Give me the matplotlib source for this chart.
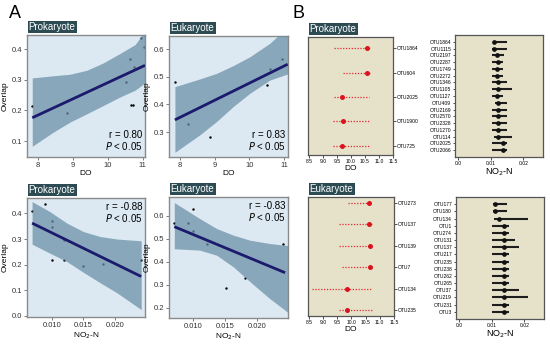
import matplotlib.pyplot as plt
import numpy as np
from matplotlib.ticker import FormatStrFormatter

plt.rcParams['font.family'] = ['Liberation Sans', 'DejaVu Sans']

# ---------------- panel A : overlap vs environment ----------------
# Prokaryote, DO
pd_x = [7.84, 8.84, 10.52, 10.63, 10.76, 10.65, 10.73, 10.95, 11.03]
pd_y = [0.214, 0.191, 0.292, 0.367, 0.342, 0.219, 0.217, 0.435, 0.408]
pd_fit_x = [7.84, 11.06]
pd_fit_y = [0.176, 0.347]
pd_band_x = [7.84, 8.44, 8.92, 9.40, 9.87, 10.35, 10.78, 11.06]
pd_band_lo = [0.083, 0.129, 0.162, 0.189, 0.216, 0.244, 0.266, 0.29]
pd_band_hi = [0.306, 0.313, 0.318, 0.331, 0.355, 0.386, 0.415, 0.46]

# Eukaryote, DO
ed_x = [7.85, 8.22, 8.85, 10.5, 10.6, 10.95]
ed_y = [0.482, 0.328, 0.282, 0.47, 0.528, 0.564]
ed_fit_x = [7.85, 11.1]
ed_fit_y = [0.344, 0.545]
ed_band_x = [7.85, 8.57, 9.05, 9.53, 10.01, 10.59, 11.1]
ed_band_lo = [0.227, 0.290, 0.338, 0.392, 0.440, 0.488, 0.51]
ed_band_hi = [0.464, 0.492, 0.512, 0.540, 0.572, 0.621, 0.68]

# Prokaryote, NO2-N
pn_x = [0.0069, 0.0089, 0.0100, 0.0100, 0.0100, 0.0119, 0.0119, 0.0150, 0.0181, 0.0241]
pn_y = [0.411, 0.437, 0.370, 0.345, 0.218, 0.218, 0.296, 0.194, 0.203, 0.218]
pn_fit_x = [0.0069, 0.0241]
pn_fit_y = [0.362, 0.154]
pn_band_x = [0.0069, 0.0097, 0.0124, 0.0150, 0.0176, 0.0203, 0.0241]
pn_band_lo = [0.280, 0.245, 0.212, 0.170, 0.130, 0.090, 0.025]
pn_band_hi = [0.446, 0.407, 0.362, 0.329, 0.310, 0.300, 0.293]

# Eukaryote, NO2-N
en_x = [0.00715, 0.0092, 0.0101, 0.0101, 0.0122, 0.0151, 0.0181, 0.0240]
en_y = [0.567, 0.567, 0.628, 0.534, 0.475, 0.285, 0.328, 0.475]
en_fit_x = [0.00715, 0.0243]
en_fit_y = [0.552, 0.352]
en_band_x = [0.00715, 0.0111, 0.0137, 0.0163, 0.0189, 0.0219, 0.0247]
en_band_lo = [0.456, 0.450, 0.428, 0.377, 0.312, 0.240, 0.18]
en_band_hi = [0.657, 0.587, 0.544, 0.515, 0.493, 0.479, 0.47]

# ---------------- panel B : OTU niche positions ----------------
prok_do_otu = ['OTU1864', 'OTU604', 'OTU2025', 'OTU1900', 'OTU725']
prok_do_mean = [10.56, 10.56, 9.68, 9.70, 9.68]
prok_do_lo = [9.41, 9.72, 9.41, 9.35, 9.35]
prok_do_hi = [10.70, 10.68, 10.64, 10.64, 10.64]

euk_do_otu = ['OTU273', 'OTU137', 'OTU139', 'OTU7', 'OTU134', 'OTU235']
euk_do_mean = [10.63, 10.63, 10.65, 10.65, 9.85, 9.83]
euk_do_lo = [9.88, 9.57, 9.57, 9.66, 8.60, 9.57]
euk_do_hi = [10.67, 10.76, 10.67, 10.72, 10.69, 10.76]

prok_no2_otu = ['OTU1864', 'OTU1115', 'OTU2197', 'OTU2287', 'OTU1749', 'OTU2272',
                'OTU1346', 'OTU1105', 'OTU1127', 'OTU409', 'OTU2169', 'OTU2570',
                'OTU2328', 'OTU1270', 'OTU114', 'OTU2025', 'OTU2066']
prok_no2_mean = [0.0111, 0.0111, 0.0120, 0.0121, 0.0120, 0.0120, 0.0121, 0.0121, 0.0120,
                 0.0121, 0.0121, 0.0121, 0.0121, 0.0121, 0.0121, 0.0137, 0.0137]
prok_no2_lo = [0.0110, 0.0103, 0.0103, 0.0103, 0.0103, 0.0103, 0.0103, 0.0103, 0.0103,
               0.0113, 0.0103, 0.0103, 0.0103, 0.0103, 0.0111, 0.0103, 0.0103]
prok_no2_hi = [0.0151, 0.0151, 0.0141, 0.0137, 0.0137, 0.0137, 0.0151, 0.0166, 0.0137,
               0.0151, 0.0151, 0.0151, 0.0151, 0.0151, 0.0166, 0.0151, 0.0151]

euk_no2_otu = ['OTU177', 'OTU180', 'OTU134', 'OTU1', 'OTU274', 'OTU131', 'OTU137', 'OTU217',
               'OTU235', 'OTU238', 'OTU262', 'OTU265', 'OTU37', 'OTU219', 'OTU231', 'OTU3']
euk_no2_mean = [0.0111, 0.0111, 0.0121, 0.0136, 0.0136, 0.0136, 0.0136, 0.0136,
                0.0136, 0.0136, 0.0136, 0.0136, 0.0136, 0.0136, 0.0136, 0.0136]
euk_no2_lo = [0.0104, 0.0104, 0.0106, 0.0101, 0.0101, 0.0101, 0.0101, 0.0101,
              0.0101, 0.0101, 0.0101, 0.0101, 0.0101, 0.0101, 0.0101, 0.0101]
euk_no2_hi = [0.0145, 0.0145, 0.0212, 0.0152, 0.0152, 0.0172, 0.0182, 0.0152,
              0.0152, 0.0152, 0.0152, 0.0152, 0.0182, 0.0212, 0.0152, 0.0152]

NO2 = 'NO$_2$-N'

W, H = 550, 345
fig = plt.figure(figsize=(5.5, 3.45), dpi=100)


def add_box(l, t, r, b):
    return fig.add_axes([l / W, 1 - b / H, (r - l) / W, (b - t) / H])


def title_box(ax, text):
    ax.annotate(text, xy=(0, 1), xycoords='axes fraction', xytext=(1.2, 2.2),
                textcoords='offset points', ha='left', va='bottom', color='white',
                fontsize=7, bbox=dict(boxstyle='square,pad=0.12', fc='#2c4b53', ec='none'))


def scatter_panel(ax, x, y, fx, fy, bx, blo, bhi, title, stat, stat_top):
    ax.set_facecolor('#dce9f2')
    ax.scatter(x, y, s=3, color='black', linewidths=0, zorder=2)
    ax.fill_between(bx, blo, bhi, color='#6a8ea6', alpha=0.72, lw=0, zorder=3)
    ax.plot(fx, fy, color='#1b1a6c', lw=2, solid_capstyle='butt', zorder=4)
    for s in ax.spines.values():
        s.set_color('#8a8a8a')
        s.set_linewidth(1)
    ax.tick_params(length=2, width=0.6, color='#666666', labelsize=5.5,
                   labelcolor='#333333', pad=1.5)
    ax.set_ylabel('Overlap', fontsize=6, labelpad=2)
    if stat_top:
        ax.text(0.98, 0.97, stat, transform=ax.transAxes, ha='right', va='top',
                fontsize=7, linespacing=1.0)
    else:
        ax.text(0.98, 0.04, stat, transform=ax.transAxes, ha='right', va='bottom',
                fontsize=7, linespacing=1.0)
    title_box(ax, title)


def b_style(ax):
    ax.set_facecolor('#e6e1c9')
    for s in ax.spines.values():
        s.set_color('#555555')
        s.set_linewidth(0.9)
    ax.tick_params(length=1.8, width=0.6, labelsize=3.6, pad=1, color='#333333')


# ----- panel A axes
a1 = add_box(27, 35, 145, 157)
scatter_panel(a1, pd_x, pd_y, pd_fit_x, pd_fit_y, pd_band_x, pd_band_lo, pd_band_hi,
              'Prokaryote', 'r = 0.80\n$P$ < 0.05', False)
a1.set_xlim(7.69, 11.06)
a1.set_ylim(0.048, 0.446)
a1.set_xticks([8, 9, 10, 11])
a1.set_yticks([0.1, 0.2, 0.3, 0.4])
a1.set_xlabel('DO', fontsize=6, labelpad=1)

a2 = add_box(169, 36, 288, 157)
scatter_panel(a2, ed_x, ed_y, ed_fit_x, ed_fit_y, ed_band_x, ed_band_lo, ed_band_hi,
              'Eukaryote', 'r = 0.83\n$P$ < 0.05', False)
a2.set_xlim(7.68, 11.11)
a2.set_ylim(0.21, 0.647)
a2.set_xticks([8, 9, 10, 11])
a2.set_yticks([0.3, 0.4, 0.5, 0.6])
a2.set_xlabel('DO', fontsize=6, labelpad=1)

a3 = add_box(27, 198, 145, 317)
scatter_panel(a3, pn_x, pn_y, pn_fit_x, pn_fit_y, pn_band_x, pn_band_lo, pn_band_hi,
              'Prokaryote', 'r = -0.88\n$P$ < 0.05', True)
a3.set_xlim(0.0061, 0.0247)
a3.set_ylim(-0.004, 0.46)
a3.set_xticks([0.010, 0.015, 0.020])
a3.set_yticks([0.0, 0.1, 0.2, 0.3, 0.4])
a3.xaxis.set_major_formatter(FormatStrFormatter('%.3f'))
a3.set_xlabel(NO2, fontsize=6, labelpad=1)

a4 = add_box(169, 197, 288, 318)
scatter_panel(a4, en_x, en_y, en_fit_x, en_fit_y, en_band_x, en_band_lo, en_band_hi,
              'Eukaryote', 'r = -0.83\n$P$ < 0.05', True)
a4.set_xlim(0.00633, 0.02475)
a4.set_ylim(0.155, 0.681)
a4.set_xticks([0.010, 0.015, 0.020])
a4.set_yticks([0.2, 0.3, 0.4, 0.5, 0.6])
a4.xaxis.set_major_formatter(FormatStrFormatter('%.3f'))
a4.set_xlabel(NO2, fontsize=6, labelpad=1)

for ax in (a1, a2, a3, a4):
    ax.yaxis.set_major_formatter(FormatStrFormatter('%.1f'))

# ----- panel B axes
def do_panel(ax, names, mean, lo, hi, pad_top, pad_bot):
    b_style(ax)
    pos = np.arange(len(names))
    ax.hlines(pos, lo, hi, color='#e8262e', lw=0.9, linestyles=(0, (1, 1.3)))
    ax.plot(mean, pos, 'o', color='#d9141c', ms=3.6, mec='none')
    ax.set_yticks(pos)
    ax.set_yticklabels(names)
    ax.yaxis.tick_right()
    ax.set_ylim(len(names) - 1 + pad_bot, -pad_top)
    ax.set_xlim(8.47, 11.5)
    ax.set_xticks(np.arange(8.5, 11.51, 0.5))
    ax.xaxis.set_major_formatter(FormatStrFormatter('%.1f'))
    ax.set_xlabel('DO', fontsize=6, labelpad=0.5)


def no2_panel(ax, names, mean, lo, hi, pad):
    b_style(ax)
    pos = np.arange(len(names))
    ax.hlines(pos, lo, hi, color='#1e1e1e', lw=1.5)
    ax.plot(mean, pos, 'o', color='#111111', ms=3.4, mec='none')
    ax.set_yticks(pos)
    ax.set_yticklabels(names)
    ax.set_ylim(len(names) - 1 + pad, -pad)
    ax.set_xlim(-0.001, 0.026)
    ax.set_xticks([0.0, 0.01, 0.02])
    ax.set_xticklabels(['0.0', '0.01', '0.02'])
    ax.set_xlabel(NO2, fontsize=6.5, labelpad=0.5)


b1 = add_box(308, 37, 393, 155)
do_panel(b1, prok_do_otu, prok_do_mean, prok_do_lo, prok_do_hi, 0.47, 0.39)
title_box(b1, 'Prokaryote')

b2 = add_box(455, 35, 543, 157)
no2_panel(b2, prok_no2_otu, prok_no2_mean, prok_no2_lo, prok_no2_hi, 1.0)

b3 = add_box(308, 197, 394, 316)
do_panel(b3, euk_do_otu, euk_do_mean, euk_do_lo, euk_do_hi, 0.28, 0.28)
title_box(b3, 'Eukaryote')

b4 = add_box(456, 197, 544, 319)
no2_panel(b4, euk_no2_otu, euk_no2_mean, euk_no2_lo, euk_no2_hi, 1.0)

fig.text(9 / W, 1 - 13 / H, 'A', fontsize=13, va='center', ha='left')
fig.text(292 / W, 1 - 13 / H, 'B', fontsize=13, va='center', ha='left')

fig.savefig('out.png', dpi=100, facecolor='white')
